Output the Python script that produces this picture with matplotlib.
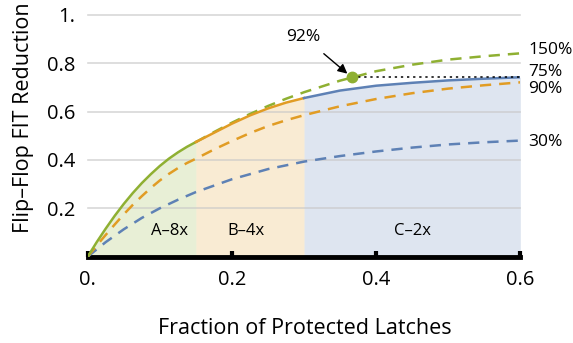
#!/usr/bin/env python3
"""Flip-flop FIT reduction vs fraction of protected latches."""
import matplotlib
matplotlib.use("Agg")
import matplotlib.pyplot as plt

plt.rcParams["font.family"] = ["Open Sans", "DejaVu Sans"]

BLUE = "#5e81b5"
ORANGE = "#e19c24"
GREEN = "#8fb032"

# x grids (fraction of protected latches)
xa = [0.0, 0.0125, 0.025, 0.0375, 0.05, 0.0625, 0.075, 0.0875, 0.1,
      0.1125, 0.125, 0.1375, 0.15]
xr = [0.15, 0.175, 0.2, 0.225, 0.25, 0.275, 0.3, 0.35, 0.4, 0.45, 0.5,
      0.55, 0.6]
xb = [0.15, 0.175, 0.2, 0.225, 0.25, 0.275, 0.3]
xc = [0.3, 0.35, 0.4, 0.45, 0.5, 0.55, 0.6]
x30 = [0.0, 0.025, 0.05, 0.075, 0.1, 0.125, 0.15, 0.2, 0.25, 0.3,
       0.35, 0.4, 0.45, 0.5, 0.55, 0.6]

# 150% curve (green): solid inside region A, dashed afterwards
g150_a = [0.0, 0.06, 0.116, 0.169, 0.218, 0.263, 0.304, 0.341, 0.375,
          0.405, 0.431, 0.454, 0.474]
g150_r = [0.474, 0.515, 0.554, 0.59, 0.623, 0.653, 0.68, 0.728, 0.767,
          0.794, 0.815, 0.829, 0.841]
# 90% curve (orange dashed)
o90_a = [0.0, 0.046, 0.09, 0.133, 0.175, 0.214, 0.25, 0.284, 0.315,
         0.342, 0.366, 0.387, 0.405]
o90_r = [0.405, 0.443, 0.478, 0.511, 0.54, 0.564, 0.585, 0.622, 0.652,
         0.676, 0.695, 0.709, 0.721]
# 30% curve (blue dashed)
b30 = [0.0, 0.06, 0.113, 0.16, 0.2, 0.235, 0.267, 0.32, 0.362, 0.393,
       0.416, 0.435, 0.451, 0.464, 0.473, 0.48]
# region B envelope (orange solid)
ob = [0.474, 0.512, 0.55, 0.584, 0.613, 0.637, 0.656]
# region C envelope, 75% (blue solid)
bc = [0.656, 0.687, 0.707, 0.719, 0.729, 0.736, 0.742]

regions = ["A\u20138x", "B\u20134x", "C\u20132x"]
region_x = [0.1135, 0.219, 0.45]
end_labels = ["150%", "75%", "90%", "30%"]
end_label_y = [0.855, 0.765, 0.692, 0.475]
dot_x, dot_y = 0.366, 0.742

fig = plt.figure(figsize=(5.73, 3.43), dpi=100)
ax = fig.add_axes([0.1531, 0.2519, 0.755, 0.7047])
ax.set_xlim(0, 0.6)
ax.set_ylim(0, 1.0)

# shaded regions under the envelope
ax.fill_between(xa, 0, g150_a, color=GREEN, alpha=0.2, lw=0, zorder=1)
ax.fill_between(xb, 0, ob, color=ORANGE, alpha=0.2, lw=0, zorder=1)
ax.fill_between(xc, 0, bc, color=BLUE, alpha=0.2, lw=0, zorder=1)

for gy in [0.2, 0.4, 0.6, 0.8, 1.0]:
    ax.axhline(gy, color="#c8c8c8", lw=1.2, alpha=0.7, zorder=2, clip_on=False)

dash = (0, (4.5, 3.2))
ax.plot(x30, b30, color=BLUE, lw=1.8, ls=dash, zorder=3)
ax.plot(xa + xr[1:], o90_a + o90_r[1:], color=ORANGE, lw=1.8, ls=dash, zorder=3)
ax.plot(xr, g150_r, color=GREEN, lw=1.8, ls=dash, zorder=3)
ax.plot(xa, g150_a, color=GREEN, lw=1.8, zorder=4)
ax.plot(xb, ob, color=ORANGE, lw=1.8, zorder=4)
ax.plot(xc, bc, color=BLUE, lw=1.8, zorder=4)

# 92% marker with dotted reference line
ax.plot([dot_x, 0.6], [dot_y, dot_y], color="k", lw=1.1, ls=(0, (1.5, 2.5)), zorder=4)
ax.plot(dot_x, dot_y, "o", color=GREEN, ms=7.5, zorder=5)
ax.annotate("92%", xy=(dot_x, dot_y), xytext=(0.2995, 0.91),
            ha="center", va="center", fontsize=12.5,
            arrowprops=dict(arrowstyle="-|>", color="k", lw=1, mutation_scale=14,
                            shrinkA=7, shrinkB=4))

for lab, lx in zip(regions, region_x):
    ax.text(lx, 0.107, lab, ha="center", va="center", fontsize=12)
for lab, ly in zip(end_labels, end_label_y):
    ax.text(0.611, ly, lab, ha="left", va="center", fontsize=12.5, clip_on=False)

for s in ["top", "right", "left"]:
    ax.spines[s].set_visible(False)
ax.spines["bottom"].set_linewidth(3.5)
ax.spines["bottom"].set_capstyle("projecting")
ax.set_xticks([0, 0.2, 0.4, 0.6])
ax.set_xticklabels(["0.", "0.2", "0.4", "0.6"])
ax.set_yticks([0.2, 0.4, 0.6, 0.8, 1.0])
ax.set_yticklabels(["0.2", "0.4", "0.6", "0.8", "1."])
ax.tick_params(axis="x", direction="in", length=4, width=3, labelsize=14.5, pad=10)
ax.tick_params(axis="y", length=0, labelsize=14.5, pad=9)

ax.set_xlabel("Fraction of Protected Latches", fontsize=15.5)
ax.xaxis.set_label_coords(0.502, -0.254)
ax.set_ylabel("Flip\u2013Flop FIT Reduction", fontsize=15.5)
ax.yaxis.set_label_coords(-0.124, 0.573)

fig.savefig("out.png", dpi=100)
